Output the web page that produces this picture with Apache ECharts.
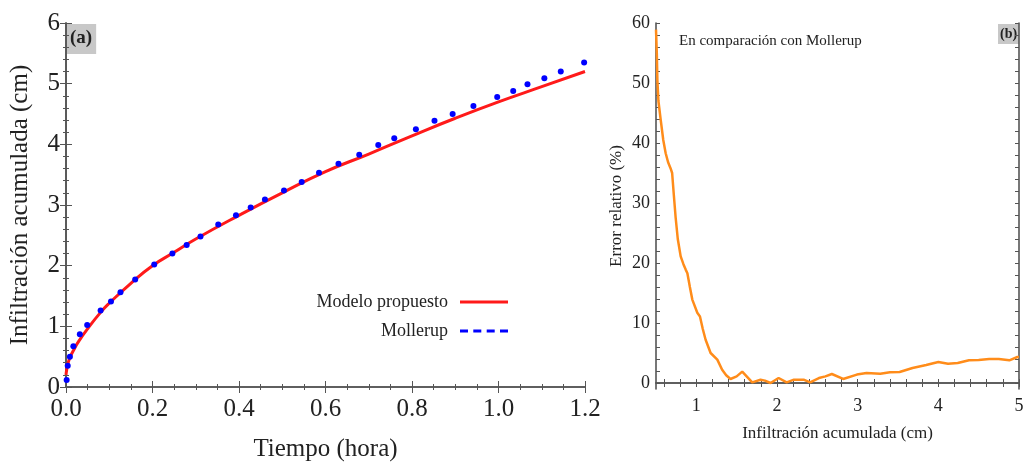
<!DOCTYPE html>
<html>
<head>
<meta charset="utf-8">
<script src="https://cdn.jsdelivr.net/npm/echarts@6/dist/echarts.min.js"></script>
<style>
  html, body { margin: 0; padding: 0; background: #fff; }
  #chart { width: 1025px; height: 464px; }
</style>
</head>
<body>
<div id="chart"></div>
<script>
// (a) modelo propuesto: tiempo (hora) vs infiltración (cm)
const timeModel = [0, 0.002, 0.005, 0.01, 0.02, 0.03, 0.05, 0.08, 0.1, 0.15, 0.2, 0.25, 0.3, 0.4, 0.5, 0.6, 0.7, 0.8, 0.9, 1.0, 1.1, 1.2];
const infModel = [0.2, 0.3, 0.4, 0.5, 0.64, 0.76, 0.96, 1.23, 1.38, 1.71, 2.0, 2.22, 2.44, 2.83, 3.2, 3.55, 3.84, 4.14, 4.43, 4.7, 4.95, 5.2];

// (a) Mollerup
const timeMoll = [0.0015, 0.004, 0.009, 0.017, 0.032, 0.049, 0.080, 0.104, 0.126, 0.160, 0.204, 0.246, 0.279, 0.311, 0.352, 0.393, 0.427, 0.460, 0.504, 0.545, 0.585, 0.630, 0.678, 0.722, 0.759, 0.809, 0.852, 0.894, 0.942, 0.997, 1.034, 1.067, 1.106, 1.144, 1.198];
const infMoll = [0.115, 0.35, 0.50, 0.67, 0.87, 1.02, 1.26, 1.41, 1.56, 1.77, 2.02, 2.20, 2.34, 2.48, 2.68, 2.83, 2.96, 3.09, 3.24, 3.38, 3.53, 3.68, 3.83, 3.99, 4.10, 4.25, 4.39, 4.50, 4.63, 4.78, 4.88, 4.99, 5.09, 5.20, 5.35];

// (b) error relativo
const infErr = [0.5, 0.51, 0.517, 0.53, 0.558, 0.59, 0.62, 0.65, 0.68, 0.70, 0.72, 0.744, 0.77, 0.806, 0.84, 0.868, 0.889, 0.92, 0.95, 1.012, 1.045, 1.08, 1.115, 1.177, 1.26, 1.32, 1.37, 1.424, 1.5, 1.569, 1.693, 1.796, 1.85, 1.92, 2.02, 2.12, 2.21, 2.33, 2.41, 2.52, 2.6, 2.68, 2.82, 2.99, 3.11, 3.28, 3.4, 3.52, 3.68, 3.85, 4.0, 4.12, 4.24, 4.38, 4.5, 4.63, 4.75, 4.88, 4.98, 5.0];
const errRel = [58.9, 55, 50.5, 47, 43.9, 40.5, 38.3, 36.8, 35.8, 35, 31.5, 27.5, 24, 21.1, 19.8, 18.9, 18.3, 16, 13.9, 11.7, 11.1, 9.0, 7.2, 5.0, 3.9, 2.2, 1.3, 0.67, 1.1, 1.9, 0.1, 0.55, 0.4, 0, 0.83, 0.1, 0.55, 0.55, 0.1, 0.83, 1.1, 1.5, 0.67, 1.4, 1.67, 1.56, 1.78, 1.83, 2.5, 3.0, 3.5, 3.2, 3.33, 3.78, 3.85, 4.0, 4.0, 3.78, 4.33, 4.35];

// ticks of panel (b)
const xLabelsB = [1, 2, 3, 4, 5];
const xTicksB = [0.6, 0.8, 1, 1.2, 1.4, 1.6, 1.8, 2, 2.2, 2.4, 2.6, 2.8, 3, 3.2, 3.4, 3.6, 3.8, 4, 4.2, 4.4, 4.6, 4.8, 5];
const yLabelsB = [0, 10, 20, 30, 40, 50, 60];
const yTicksB = [0, 2, 4, 6, 8, 10, 12, 14, 16, 18, 20, 22, 24, 26, 28, 30, 32, 34, 36, 38, 40, 42, 44, 46, 48, 50, 52, 54, 56, 58, 60];

const zip = (a, b) => a.map((v, i) => [v, b[i]]);

const serif = "'Liberation Serif', 'DejaVu Serif', serif";
const frame = { show: true, lineStyle: { color: '#555', width: 1.6 } };
const tickStyle = { color: '#555', width: 1 };

const myChart = echarts.init(document.getElementById('chart'));

var option = {
  animation: false,
  grid: [
    { left: 66, top: 23, width: 519, height: 364, outerBoundsMode: 'none' },
    { left: 656, top: 23, width: 363, height: 366, outerBoundsMode: 'none' }
  ],
  legend: {
    orient: 'vertical',
    align: 'right',
    right: 512,
    top: 287,
    itemWidth: 48,
    itemHeight: 3,
    itemGap: 9,
    textStyle: { fontFamily: serif, fontSize: 18, color: '#222', lineHeight: 20, padding: [0, 7, 0, 0] },
    data: [
      { name: 'Modelo propuesto', icon: 'rect' },
      { name: 'Mollerup', icon: 'path://M0,0h8v3h-8z M13.3,0h8v3h-8z M26.7,0h8v3h-8z M40,0h8v3h-8z' }
    ]
  },
  xAxis: [
    {
      gridIndex: 0, type: 'value', min: 0, max: 1.2, interval: 0.2, position: 'bottom',
      name: 'Tiempo (hora)', nameLocation: 'middle', nameGap: 50,
      nameTextStyle: { fontFamily: serif, fontSize: 25, color: '#222' },
      axisLine: frame,
      axisTick: { inside: true, length: 6, lineStyle: tickStyle },
      minorTick: { show: true, splitNumber: 4, length: 3, lineStyle: tickStyle },
      axisLabel: { fontFamily: serif, fontSize: 25, color: '#222', margin: 10, formatter: (v) => v.toFixed(1) },
      splitLine: { show: false }
    },
    {
      gridIndex: 0, type: 'value', min: 0, max: 1.2, interval: 0.2, position: 'top',
      axisLine: frame,
      axisTick: { inside: true, length: 6, lineStyle: tickStyle },
      minorTick: { show: true, splitNumber: 4, length: 3, lineStyle: tickStyle },
      axisLabel: { show: false },
      splitLine: { show: false }
    },
    {
      gridIndex: 1, type: 'value', min: 0.5, max: 5, position: 'bottom',
      name: 'Infiltración acumulada (cm)', nameLocation: 'middle', nameGap: 36,
      nameTextStyle: { fontFamily: serif, fontSize: 17, color: '#222' },
      axisLine: frame,
      axisTick: { inside: true, length: 4, lineStyle: tickStyle, customValues: xTicksB },
      axisLabel: { fontFamily: serif, fontSize: 18, color: '#222', margin: 8, customValues: xLabelsB },
      splitLine: { show: false }
    },
    {
      gridIndex: 1, type: 'value', min: 0.5, max: 5, position: 'top',
      axisLine: frame,
      axisTick: { inside: true, length: 4, lineStyle: tickStyle, customValues: xTicksB },
      axisLabel: { show: false },
      splitLine: { show: false }
    }
  ],
  yAxis: [
    {
      gridIndex: 0, type: 'value', min: 0, max: 6, interval: 1, position: 'left',
      name: 'Infiltración acumulada (cm)', nameLocation: 'middle', nameGap: 33,
      nameTextStyle: { fontFamily: serif, fontSize: 25, color: '#222' },
      axisLine: frame,
      axisTick: { inside: true, length: 6, lineStyle: tickStyle },
      minorTick: { show: true, splitNumber: 5, length: 3, lineStyle: tickStyle },
      axisLabel: { fontFamily: serif, fontSize: 25, color: '#222', margin: 6 },
      splitLine: { show: false }
    },
    {
      gridIndex: 0, type: 'value', min: 0, max: 6, interval: 1, position: 'right',
      axisLine: frame,
      axisTick: { inside: true, length: 6, lineStyle: tickStyle },
      minorTick: { show: true, splitNumber: 5, length: 3, lineStyle: tickStyle },
      axisLabel: { show: false },
      splitLine: { show: false }
    },
    {
      gridIndex: 1, type: 'value', min: -1, max: 60, position: 'left',
      name: 'Error relativo (%)', nameLocation: 'middle', nameGap: 31,
      nameTextStyle: { fontFamily: serif, fontSize: 17, color: '#222' },
      axisLine: frame,
      axisTick: { inside: true, length: 4, lineStyle: tickStyle, customValues: yTicksB },
      axisLabel: { fontFamily: serif, fontSize: 18, color: '#222', margin: 6, customValues: yLabelsB },
      splitLine: { show: false }
    },
    {
      gridIndex: 1, type: 'value', min: -1, max: 60, position: 'right',
      axisLine: frame,
      axisTick: { inside: true, length: 4, lineStyle: tickStyle, customValues: yTicksB },
      axisLabel: { show: false },
      splitLine: { show: false }
    }
  ],
  series: [
    {
      name: 'Modelo propuesto', type: 'line', xAxisIndex: 0, yAxisIndex: 0,
      data: zip(timeModel, infModel), smooth: true, showSymbol: false,
      color: '#ff1a1a', lineStyle: { width: 3 }, z: 2
    },
    {
      name: 'Mollerup', type: 'scatter', xAxisIndex: 0, yAxisIndex: 0,
      data: zip(timeMoll, infMoll), symbolSize: 6,
      color: '#0000ff', itemStyle: { opacity: 1 }, z: 3
    },
    {
      name: 'Error', type: 'line', xAxisIndex: 2, yAxisIndex: 2,
      data: zip(infErr, errRel), smooth: false, showSymbol: false,
      color: '#ff8c1a', lineStyle: { width: 2.5 }
    }
  ],
  graphic: [
    {
      type: 'text', left: 67, top: 24,
      style: { text: '(a)', font: "bold 19px 'Liberation Serif'", fill: '#222', backgroundColor: '#c8c8c8', padding: [5, 4, 6, 3] }
    },
    {
      type: 'text', left: 998, top: 24,
      style: { text: '(b)', font: "bold 14px 'Liberation Serif'", fill: '#222', backgroundColor: '#c8c8c8', padding: [3, 2, 3, 2] }
    },
    {
      type: 'text', left: 679, top: 34,
      style: { text: 'En comparación con Mollerup', font: "15px 'Liberation Serif'", fill: '#222' }
    }
  ]
};

myChart.setOption(option);
window.onresize = () => {
  myChart.resize();
};
</script>
</body>
</html>
